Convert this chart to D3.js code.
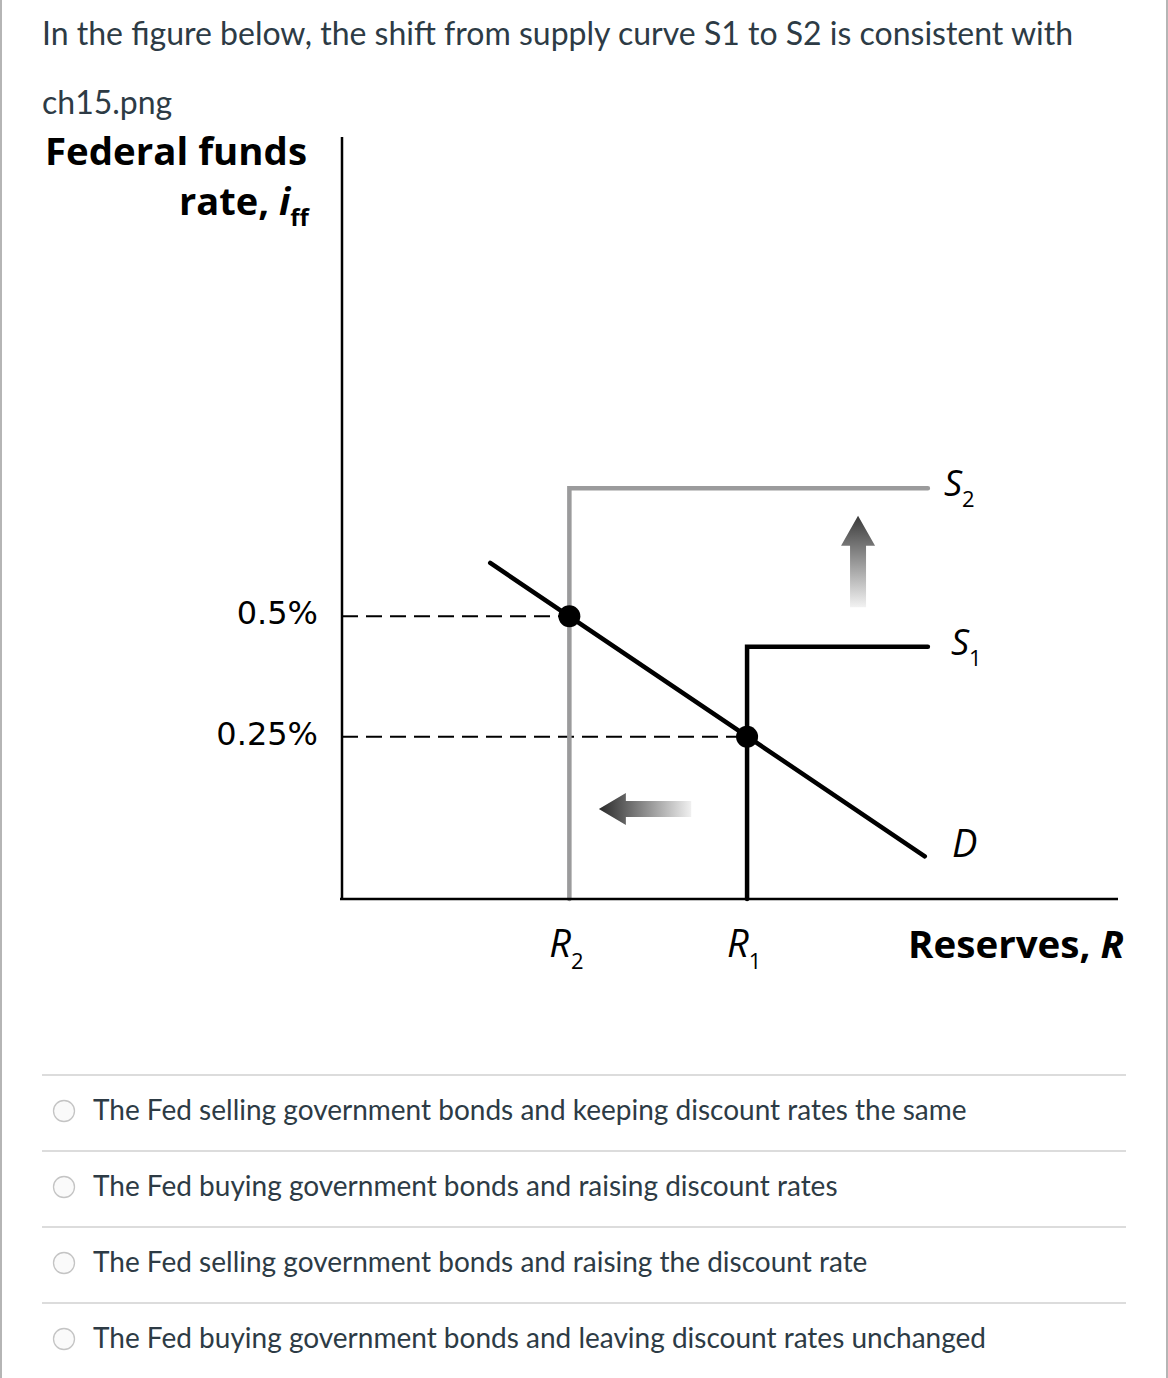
<!DOCTYPE html>
<html><head><meta charset="utf-8">
<script src="https://cdn.jsdelivr.net/npm/d3@7"></script>
<style>
html,body{margin:0;padding:0;background:#fff;}
svg{display:block;}
</style></head>
<body>
<script>
// ---- data (schematic units: 0..10 on each axis) ----
const question = "In the figure below, the shift from supply curve S1 to S2 is consistent with";
const fileName = "ch15.png";
const rateTicks = [0.5, 0.25];               // fed funds rate levels
const rateTickLabels = ["0.5%", "0.25%"];
const rateTickPos = [3.71, 2.13];             // vertical position of each rate level
const reservesCats = ["R2", "R1"];
const reservesPos = [2.93, 5.22];             // horizontal position of R2, R1
const supplyTop = [5.39, 3.31];               // S2, S1 discount-rate (flat part) level
const supplyNames = ["2", "1"];
const supplyEnd = 7.55;
const demandPts = [[1.91, 4.41], [2.93, 3.71], [5.22, 2.13], [7.51, 0.56]];
const options = [
  "The Fed selling government bonds and keeping discount rates the same",
  "The Fed buying government bonds and raising discount rates",
  "The Fed selling government bonds and raising the discount rate",
  "The Fed buying government bonds and leaving discount rates unchanged"
];

const W = 1168, H = 1378;
const svg = d3.select("body").append("svg").attr("width", W).attr("height", H);

// page borders
svg.append("rect").attr("x",0).attr("y",0).attr("width",2).attr("height",H).attr("fill","#b5b5b5");
svg.append("rect").attr("x",1166).attr("y",0).attr("width",2).attr("height",H).attr("fill","#b5b5b5");

const txt = "#2d3b45";
svg.append("text").attr("x",42).attr("y",45).attr("font-family","Lato").attr("font-size",32)
  .attr("fill",txt).text(question);
svg.append("text").attr("x",42).attr("y",114).attr("font-family","Lato").attr("font-size",32)
  .attr("fill",txt).text(fileName);

// ---- chart ----
const x = d3.scaleLinear().domain([0,10]).range([342,1118]);
const y = d3.scaleLinear().domain([0,10]).range([899,137]);
const gf = "'Open Sans', 'DejaVu Sans', sans-serif";

const defs = svg.append("defs");
const gUp = defs.append("linearGradient").attr("id","gUp").attr("x1",0).attr("y1",0).attr("x2",0).attr("y2",1);
gUp.append("stop").attr("offset","0%").attr("stop-color","#3a3a3a");
gUp.append("stop").attr("offset","100%").attr("stop-color","#f2f2f2");
const gLeft = defs.append("linearGradient").attr("id","gLeft").attr("x1",0).attr("y1",0).attr("x2",1).attr("y2",0);
gLeft.append("stop").attr("offset","0%").attr("stop-color","#2a2a2a");
gLeft.append("stop").attr("offset","100%").attr("stop-color","#f0f0f0");

// dashed guides
svg.selectAll(".guide").data(rateTickPos).join("line")
  .attr("x1", x(0)).attr("x2", (d,i)=>x(reservesPos[i]))
  .attr("y1", d=>y(d)).attr("y2", d=>y(d))
  .attr("stroke","#000").attr("stroke-width",2).attr("stroke-dasharray","16,8");

// supply curves
const supplyColors = ["#9b9b9c", "#000"];
supplyTop.forEach((t,i)=>{
  svg.append("path")
    .attr("d", d3.line()([[x(reservesPos[i]), y(0)], [x(reservesPos[i]), y(t)], [x(supplyEnd), y(t)]]))
    .attr("fill","none").attr("stroke", supplyColors[i]).attr("stroke-width",4.5)
    .attr("stroke-linecap","round").attr("stroke-linejoin","miter");
});

// axes
svg.append("line").attr("x1",x(0)).attr("x2",x(0)).attr("y1",y(10)).attr("y2",y(0))
  .attr("stroke","#000").attr("stroke-width",2.5);
svg.append("line").attr("x1",x(0)-2).attr("x2",x(10)).attr("y1",y(0)).attr("y2",y(0))
  .attr("stroke","#000").attr("stroke-width",2.5);

// demand
svg.append("path").attr("d", d3.line().x(d=>x(d[0])).y(d=>y(d[1]))([demandPts[0], demandPts[3]]))
  .attr("stroke","#000").attr("stroke-width",4.5).attr("stroke-linecap","round").attr("fill","none");

// equilibrium dots
svg.selectAll(".dot").data(rateTickPos).join("circle")
  .attr("cx",(d,i)=>x(reservesPos[i])).attr("cy",d=>y(d)).attr("r",11).attr("fill","#000");

// up arrow (between S1 and S2)
{
  const cx = x(6.65), top = y(5.03), bot = y(3.83);
  svg.append("path").attr("d",
    `M${cx-8},${bot} L${cx-8},${top+30} L${cx-17},${top+30} L${cx},${top} L${cx+17},${top+30} L${cx+8},${top+30} L${cx+8},${bot} Z`)
    .attr("fill","url(#gUp)");
}
// left arrow
{
  const cy = y(1.18), left = x(3.31), right = x(4.5);
  svg.append("path").attr("d",
    `M${right},${cy-8} L${left+27},${cy-8} L${left+27},${cy-16} L${left},${cy} L${left+27},${cy+16} L${left+27},${cy+8} L${right},${cy+8} Z`)
    .attr("fill","url(#gLeft)");
}

// y-axis title
svg.append("text").attr("x",307).attr("y",165).attr("text-anchor","end")
  .attr("font-family",gf).attr("font-weight",700).attr("font-size",38)
  .attr("textLength",262).attr("lengthAdjust","spacingAndGlyphs").text("Federal funds");
const rt = svg.append("text").attr("x",179).attr("y",215)
  .attr("font-family",gf).attr("font-weight",700).attr("font-size",38).attr("fill","#000");
rt.append("tspan").text("rate, ");
rt.append("tspan").attr("font-style","italic").text("i");
rt.append("tspan").attr("font-size",24).attr("dy",11).text("ff");

// tick labels
svg.selectAll(".tick").data(rateTickLabels).join("text")
  .attr("x",318).attr("y",(d,i)=>y(rateTickPos[i])+8).attr("text-anchor","end")
  .attr("font-family","'DejaVu Sans', sans-serif").attr("font-size",32).attr("fill","#000").text(d=>d);

// reserves labels
reservesCats.forEach((c,i)=>{
  const t = svg.append("text").attr("x",x(reservesPos[i])-20).attr("y",957)
    .attr("font-family",gf).attr("font-size",38).attr("fill","#000");
  t.append("tspan").attr("font-style","italic").text(c[0]);
  t.append("tspan").attr("font-size",22).attr("dy",12).text(c.slice(1));
});
const rs = svg.append("text").attr("x",1124).attr("y",958).attr("text-anchor","end")
  .attr("font-family",gf).attr("font-weight",700).attr("font-size",37).attr("fill","#000")
  .attr("textLength",216).attr("lengthAdjust","spacingAndGlyphs");
rs.append("tspan").text("Reserves, ");
rs.append("tspan").attr("font-style","italic").text("R");

// supply labels
supplyTop.forEach((t,i)=>{
  const tx = svg.append("text").attr("x",x(supplyEnd)+16 + (i===1?7:0)).attr("y",y(t)+8)
    .attr("font-family",gf).attr("font-size",36).attr("fill","#000");
  tx.append("tspan").attr("font-style","italic").text("S");
  tx.append("tspan").attr("font-size",22).attr("dy",11).text(supplyNames[i]);
});
svg.append("text").attr("x",952).attr("y",857).attr("font-family",gf).attr("font-style","italic")
  .attr("font-size",38).attr("fill","#000").text("D");

// ---- answer options ----
const optTop = 1075, optStep = 76;
options.forEach((o,i)=>{
  const yy = optTop + i*optStep;
  svg.append("rect").attr("x",42).attr("y",yy-1).attr("width",1084).attr("height",2).attr("fill","#dcdcdc");
  svg.append("circle").attr("cx",64).attr("cy",yy+36).attr("r",10.5)
    .attr("fill","#fafafa").attr("stroke","#c4c4c4").attr("stroke-width",1.3);
  svg.append("text").attr("x",93).attr("y",yy+45).attr("font-family","Lato").attr("font-size",28)
    .attr("fill",txt).text(o);
});
</script>
</body></html>
